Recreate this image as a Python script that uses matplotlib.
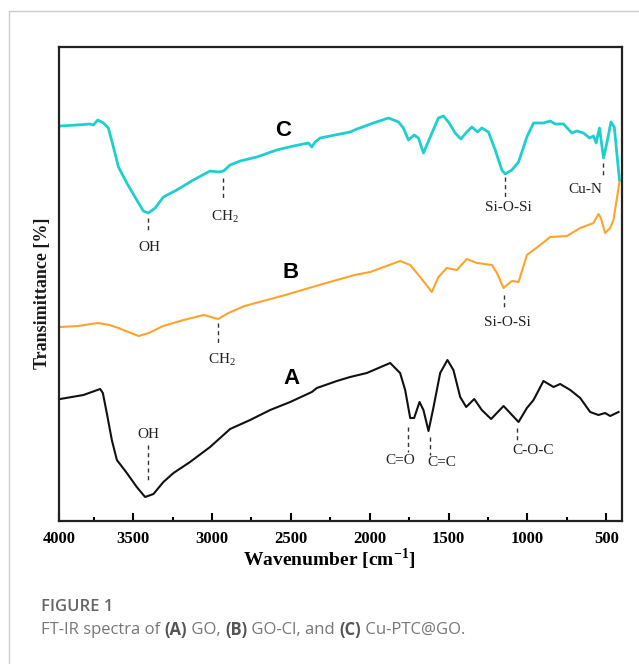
import numpy as np
import matplotlib
matplotlib.use("Agg")
import matplotlib.pyplot as plt
from matplotlib.patches import Rectangle

plt.rcParams['mathtext.fontset'] = 'stix'

# wavenumber (cm-1) / transmittance (arb. units, curves are offset)
wn_c = [3963, 3857, 3773, 3752, 3724, 3688, 3657, 3625, 3593, 3540, 3477, 3435, 3403, 3360, 3308,
        3223, 3118, 3012, 2959, 2927, 2885, 2821, 2716, 2589, 2483, 2388, 2367, 2346, 2314, 2187,
        2124, 2081, 1976, 1881, 1817, 1786, 1754, 1718, 1691, 1659, 1616, 1564, 1532, 1500, 1458,
        1422, 1384, 1352, 1316, 1289, 1247, 1204, 1162, 1141, 1098, 1056, 1003, 961, 898, 855,
        824, 771, 718, 686, 644, 606, 581, 564, 543, 517, 496, 470, 449, 416]
t_c = [395, 396, 397, 396, 401, 398, 393, 374, 354, 338, 321, 310, 308, 313, 324,
       331, 341, 350, 349, 350, 356, 360, 364, 371, 375, 378, 374, 379, 383, 387,
       389, 392, 398, 403, 399, 393, 381, 386, 383, 368, 384, 403, 405, 399, 388,
       382, 389, 394, 389, 393, 389, 371, 351, 347, 351, 359, 384, 398, 398, 400,
       397, 397, 388, 390, 388, 383, 385, 378, 393, 363, 378, 399, 394, 341]

wn_b = [3961, 3850, 3723, 3650, 3594, 3530, 3465, 3400, 3310, 3180, 3052, 2961, 2896, 2793, 2535,
        2276, 2095, 1997, 1807, 1743, 1680, 1606, 1564, 1511, 1447, 1384, 1320, 1225, 1193, 1151,
        1098, 1056, 1003, 919, 855, 750, 665, 581, 549, 534, 507, 475, 454, 416]
t_b = [194, 195, 198, 196, 193, 189, 185, 188, 195, 201, 206, 202, 208, 215, 226,
       238, 246, 249, 260, 256, 244, 229, 244, 253, 251, 262, 258, 256, 248, 233,
       240, 239, 266, 276, 284, 285, 293, 298, 307, 303, 288, 293, 301, 339]

wn_a = [3963, 3815, 3709, 3692, 3667, 3635, 3603, 3540, 3477, 3424, 3371, 3308, 3244, 3139, 3012,
        2885, 2758, 2631, 2504, 2367, 2335, 2208, 2124, 2018, 1870, 1807, 1775, 1743, 1718, 1684,
        1659, 1627, 1595, 1553, 1507, 1469, 1426, 1388, 1337, 1289, 1230, 1151, 1056, 1003, 961,
        898, 834, 792, 728, 665, 602, 549, 507, 475, 422]
t_a = [122, 126, 132, 128, 108, 81, 61, 48, 34, 24, 27, 39, 48, 59, 74,
       92, 101, 111, 119, 129, 133, 140, 144, 148, 158, 148, 131, 103, 103, 119,
       111, 90, 114, 148, 161, 151, 124, 114, 122, 111, 102, 115, 99, 113, 121,
       140, 134, 137, 131, 123, 109, 106, 108, 105, 109]

# band assignments: label, dash x, dash y0, dash y1, text x, text y
bands = [
    ("OH", 3405, 303, 288, 3395, 274),
    ("CH$_\\mathregular{2}$", 2927, 343, 321, 2917, 304),
    ("Si-O-Si", 1141, 344, 324, 1122, 314),
    ("Cu-N", 521, 358, 343, 633, 332),
    ("CH$_\\mathregular{2}$", 2961, 198, 176, 2937, 161),
    ("Si-O-Si", 1151, 226, 211, 1130, 199),
    ("OH", 3405, 76, 41, 3403, 86),
    ("C=O", 1754, 94, 69, 1807, 61),
    ("C=C", 1616, 84, 66, 1542, 58),
    ("C-O-C", 1067, 93, 79, 965, 70),
]
curve_names = ["A", "B", "C"]
curve_name_pos = [(2494, 143), (2504, 249), (2549, 391)]
xtick_pos = [3970, 3500, 3000, 2500, 2000, 1500, 1000, 500]
xtick_labels = ["4000", "3500", "3000", "2500", "2000", "1500", "1000", "500"]

fig = plt.figure(figsize=(6.39, 6.64), dpi=100)
fig.patches.append(Rectangle((9 / 639, -0.1), 1.2, (653 / 664) + 0.1, transform=fig.transFigure,
                             fill=False, edgecolor='#cccccc', linewidth=1.0))

ax = fig.add_axes([59 / 639, 1 - 521 / 664, 563 / 639, 474 / 664])
ax.plot(wn_c, t_c, color='#1fcfd0', lw=2.0)
ax.plot(wn_b, t_b, color='#ffa32a', lw=1.5)
ax.plot(wn_a, t_a, color='#111111', lw=1.5)
ax.set_xlim(3970, 400)
ax.set_ylim(0, 474)

for name, xd, y0, y1, xt, yt in bands:
    ax.plot([xd, xd], [y0, y1], color='#333333', lw=1.0, ls=(0, (3, 2.5)))
    ax.text(xt, yt, name, ha='center', va='center', fontsize=11,
            family='Liberation Serif', color='#222222')

for name, (xp, yp) in zip(curve_names, curve_name_pos):
    ax.text(xp, yp, name, ha='center', va='center', fontsize=16, fontweight='bold',
            family='Liberation Sans', color='black')

for side in ['left', 'bottom', 'top', 'right']:
    ax.spines[side].set_linewidth(1.6)
    ax.spines[side].set_color('#222222')
ax.set_yticks([])
ax.set_xticks(xtick_pos)
ax.set_xticklabels(xtick_labels, family='Liberation Serif', fontweight='bold', fontsize=12)
ax.set_xticks([3750, 3250, 2750, 2250, 1750, 1250, 750], minor=True)
ax.tick_params(axis='x', which='major', direction='in', length=6, width=1.5, pad=7)
ax.tick_params(axis='x', which='minor', direction='in', length=3, width=1.5)
ax.set_xlabel("Wavenumber [cm$^{\\mathregular{-1}}$]", family='Liberation Serif',
              fontweight='bold', fontsize=14)
ax.xaxis.set_label_coords(0.48, -0.055)
ax.set_ylabel("Transimittance [%]", family='Liberation Serif', fontweight='bold',
              fontsize=13, color='#1a1a1a')
ax.yaxis.set_label_coords(-0.015, 0.48)

fig.text(41 / 639, 1 - 607 / 664, "FIGURE 1", family='Open Sans', fontsize=12,
         fontweight='semibold', color='#666666', va='center')

# caption with bold panel letters, drawn piece by piece
pieces = [("FT-IR spectra of ", 'normal'), ("(A)", 'bold'), (" GO, ", 'normal'),
          ("(B)", 'bold'), (" GO-Cl, and ", 'normal'), ("(C)", 'bold'), (" Cu-PTC@GO.", 'normal')]
renderer = fig.canvas.get_renderer()
x = 41
for txt, w in pieces:
    t = fig.text(x / 639, 1 - 630 / 664, txt, family='Open Sans', fontsize=12, fontweight=w,
                 color='#555555' if w == 'bold' else '#777777', va='center')
    x += t.get_window_extent(renderer).width

fig.savefig("out.png", dpi=100)
